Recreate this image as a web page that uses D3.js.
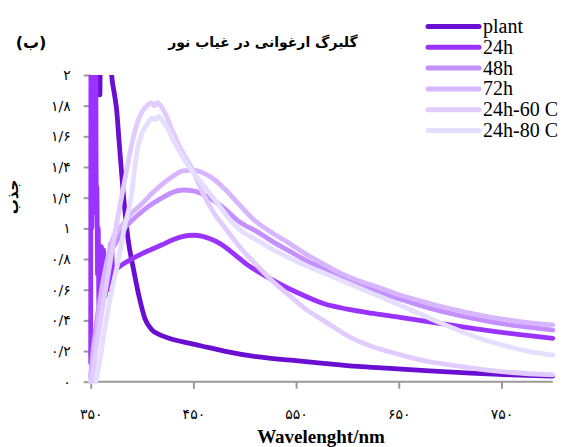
<!DOCTYPE html>
<html><head><meta charset="utf-8">
<script src="https://cdn.jsdelivr.net/npm/d3@7/dist/d3.min.js"></script>
<style>body{margin:0;background:#fff}svg{display:block}</style>
</head><body>
<svg id="c" width="567" height="447"></svg>
<script>
const seriesNames = ["plant","24h","48h","72h","24h-60 C","24h-80 C"];
const seriesColors = ["#6a0fd2","#9a33ff","#c48fff","#d8b6ff","#e2cbff","#e6defe"];
const xTicks = [350,450,550,650,750];
const xTickLabels = ["۳۵۰","۴۵۰","۵۵۰","۶۵۰","۷۵۰"];
const yTicks = [0,0.2,0.4,0.6,0.8,1,1.2,1.4,1.6,1.8,2];
const yTickLabels = ["۰","۰/۲","۰/۴","۰/۶","۰/۸","۱","۱/۲","۱/۴","۱/۶","۱/۸","۲"];
const title = "گلبرگ ارغوانی  در غیاب نور";
const panel = "(ب)";
const yTitle = "جذب";
const xTitle = "Wavelenght/nm";

const plant = [[350,2.3],[357.5,2.3],[358.3,1.87],[358.9,1.87],[359.7,2.3],[368,2.3],[370.4,2.0],[373,1.88],[375.3,1.77],[377.5,1.58],[381.7,1.23],[386.6,0.92],[391.5,0.74],[396.3,0.58],[402.9,0.41],[409.4,0.34],[416,0.31],[425.6,0.285],[446.7,0.25],[458,0.233],[480,0.2],[511.6,0.163],[545,0.14],[576.5,0.12],[610,0.1],[641.4,0.087],[680,0.07],[720,0.056],[760,0.045],[800,0.037]];
const h24 = [[350,0.12],[350.3,2.3],[351.1,1.0],[351.8,2.3],[352.6,1.1],[353.3,2.3],[354.1,1.2],[354.8,2.3],[355.4,1.27],[356,1.27],[356.7,0.7],[357.3,1.0],[358,0.5],[358.7,0.7],[359.5,0.58],[360.5,0.88],[361.5,0.6],[362.5,0.86],[363.5,0.55],[365,0.6],[366.5,0.68],[368,0.6],[369.5,0.9],[370.5,0.88],[371.5,0.68],[373,0.72],[376,0.74],[380,0.76],[390,0.8],[400,0.835],[410,0.865],[420,0.895],[430,0.925],[440,0.948],[450,0.955],[458,0.95],[465,0.935],[476,0.9],[490,0.83],[501,0.77],[520,0.69],[533.5,0.64],[550,0.585],[576.5,0.51],[600,0.473],[625,0.445],[651,0.42],[675,0.395],[700,0.37],[725,0.345],[750,0.322],[775,0.302],[800,0.283]];
const h48 = [[350,0.03],[352,0.2],[355,0.35],[358,0.5],[361,0.62],[364,0.72],[367,0.8],[370,0.86],[374,0.9],[378,0.95],[383,1.0],[390,1.05],[400,1.11],[410,1.16],[420,1.2],[430,1.235],[440,1.25],[450,1.245],[460,1.22],[470,1.18],[480,1.13],[495.4,1.04],[511.6,0.98],[528,0.91],[544,0.85],[560,0.79],[576.5,0.74],[592.7,0.69],[610,0.635],[630,0.585],[651,0.54],[680,0.48],[710,0.43],[740,0.39],[770,0.36],[800,0.337]];
const h72 = [[350,0.02],[352,0.15],[355,0.3],[358,0.45],[361,0.6],[364,0.72],[367,0.82],[370,0.9],[374,0.97],[378,1.0],[383,1.04],[390,1.1],[400,1.16],[410,1.23],[420,1.29],[430,1.34],[440,1.375],[450,1.38],[460,1.36],[470,1.32],[480,1.26],[495.4,1.15],[510,1.05],[527,0.97],[544,0.9],[560,0.83],[576,0.77],[592.7,0.71],[610,0.66],[630,0.615],[651,0.565],[680,0.51],[710,0.46],[740,0.42],[770,0.39],[800,0.37]];
const c60 = [[350,0.0],[352,0.05],[355,0.2],[360,0.42],[365,0.62],[370,0.82],[375,1.02],[380,1.2],[385,1.38],[390,1.55],[395,1.68],[400,1.76],[405,1.8],[409,1.82],[412,1.8],[415,1.82],[418,1.8],[424,1.73],[430,1.63],[440,1.49],[447,1.41],[460,1.22],[470,1.1],[480,1.01],[495,0.88],[511.6,0.76],[528,0.65],[544,0.56],[560,0.47],[576.5,0.4],[602,0.293],[620,0.24],[641,0.195],[660,0.16],[680,0.13],[700,0.11],[730,0.08],[760,0.06],[800,0.044]];
const c80 = [[355,0.0],[359,0.14],[364,0.36],[370,0.58],[377,0.79],[383,1.01],[390,1.23],[393,1.4],[396,1.53],[400,1.62],[405,1.68],[410,1.72],[413,1.71],[416,1.73],[420,1.7],[425,1.65],[430,1.58],[440,1.46],[447,1.39],[460,1.28],[472.7,1.17],[485,1.06],[495.4,0.99],[511.6,0.925],[528,0.86],[544,0.805],[560,0.755],[576.5,0.71],[592.7,0.665],[610,0.615],[630,0.56],[651,0.5],[670,0.445],[690,0.385],[710,0.33],[730,0.28],[750,0.24],[775,0.2],[800,0.174]];
const seriesData = [plant,h24,h48,h72,c60,c80];

const svg = d3.select("#c");
const x = d3.scaleLinear().domain([350,800]).range([90.7,552.8]);
const y = d3.scaleLinear().domain([0,2]).range([381.7,75]);
const axisColor = "#9a9a9a";

svg.append("defs").append("clipPath").attr("id","pc").append("rect")
  .attr("x",x(350)-3).attr("y",y(2)).attr("width",x(800)-x(350)+6).attr("height",y(0)-y(2)+3);

// axes
const yAxis = svg.append("g").attr("transform",`translate(${x(350)},0)`)
  .call(d3.axisLeft(y).tickValues(yTicks).tickSize(7).tickPadding(13).tickFormat((d,i)=>yTickLabels[i]));
const xAxis = svg.append("g").attr("transform",`translate(0,${y(0)})`)
  .call(d3.axisBottom(x).tickValues(xTicks).tickSize(7).tickPadding(20).tickFormat((d,i)=>xTickLabels[i]));
[yAxis,xAxis].forEach(g=>{
  g.select(".domain").attr("stroke",axisColor).attr("stroke-width",2);
  g.selectAll(".tick line").attr("stroke",axisColor).attr("stroke-width",2);
  g.selectAll(".tick text").attr("fill","#000").attr("font-family","DejaVu Sans").attr("font-size",14);
});
xAxis.select(".domain").attr("d",`M${x(350)},0H${x(800)}`);
yAxis.select(".domain").attr("d",`M0,${y(0)}V${y(2)}`);

// lines
const line = d3.line().x(d=>x(d[0])).y(d=>y(d[1])).curve(d3.curveMonotoneX);
const pg = svg.append("g").attr("clip-path","url(#pc)");
seriesData.forEach((s,i)=>{
  pg.append("path").attr("d",line(s)).attr("fill","none")
    .attr("stroke",seriesColors[i]).attr("stroke-width",4.8)
    .attr("stroke-linejoin","round").attr("stroke-linecap","round");
});

// legend
const lg = svg.append("g");
seriesNames.forEach((n,i)=>{
  const ly = 26.5 + i*20.8;
  lg.append("line").attr("x1",428).attr("x2",479).attr("y1",ly).attr("y2",ly)
    .attr("stroke",seriesColors[i]).attr("stroke-width",5).attr("stroke-linecap","round");
  lg.append("text").attr("x",483).attr("y",ly+6.5).text(n)
    .attr("font-family","Liberation Serif").attr("font-size",20).attr("fill","#000");
});

// titles
svg.append("text").attr("x",263).attr("y",47).attr("text-anchor","middle").attr("direction","rtl")
  .attr("font-family","DejaVu Sans").attr("font-weight","bold").attr("font-size",14).text(title);
svg.append("text").attr("x",31).attr("y",48).attr("text-anchor","middle").attr("direction","rtl")
  .attr("font-family","DejaVu Sans").attr("font-weight","bold").attr("font-size",16).text(panel);
svg.append("text").attr("transform","translate(18,197) rotate(-90)").attr("text-anchor","middle")
  .attr("font-family","DejaVu Sans").attr("font-weight","bold").attr("font-size",15).text(yTitle);
svg.append("text").attr("x",321).attr("y",443).attr("text-anchor","middle")
  .attr("font-family","Liberation Serif").attr("font-weight","bold").attr("font-size",19).text(xTitle);
</script>
</body></html>
